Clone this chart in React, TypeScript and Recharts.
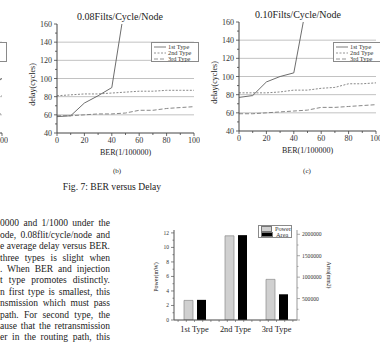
import React from 'react';
import { LineChart, Line, XAxis, YAxis, ReferenceLine, Legend, BarChart, Bar } from 'recharts';

const serif = '"Liberation Serif", "Times New Roman", serif';

// BER versus delay (three panels, (a) is mostly cropped away on the left)
const berTicks = [0, 10, 20, 30, 40, 50, 60, 70, 80, 90, 100];
const delayTicks = [40, 50, 60, 70, 80, 90, 100, 110, 120, 130, 140, 150, 160];
const delayGrid = [60, 80, 100, 120, 140];
const typeNames = ['1st Type', '2nd Type', '3rd Type'];

const delayA1 = [58, 58, 59, 60, 62, 64, 68, 73, 80, 89, 100];
const delayA2 = [79, 79, 79, 80, 80, 80, 80, 80, 81, 81, 81];
const delayA3 = [58, 58, 58, 59, 59, 59, 60, 60, 60, 61, 61];

const delayB1 = [58, 59, 73, 81, 90, 185];
const delayB2 = [81, 82, 83, 83, 84, 85, 86, 86, 87, 87, 87];
const delayB3 = [59, 59, 60, 61, 61, 62, 65, 65, 67, 68, 69];

const delayC1 = [77, 79, 94, 100, 104, 185];
const delayC2 = [82, 82, 82, 83, 85, 85, 87, 88, 92, 92, 93];
const delayC3 = [59, 59, 60, 61, 62, 63, 66, 66, 67, 68, 69];

// power / area bar chart
const categories = ['1st Type', '2nd Type', '3rd Type'];
const powerValues = [2.7, 11.6, 5.6];
const areaValues = [470000, 1980000, 600000];
const powerTicks = [0, 1, 2, 3, 4, 5, 6, 7, 8, 9, 10, 11, 12];
const areaTicks = [0, 250000, 500000, 750000, 1000000, 1250000, 1500000, 1750000, 2000000];

const textLines = [
  '0000 and 1/1000 under the',
  'ode, 0.08flit/cycle/node and',
  'e average delay versus BER.',
  'three types is slight when',
  '. When BER and injection',
  't type promotes distinctly.',
  'n first type is smallest, this',
  'nsmission which must pass',
  'path. For second type, the',
  'ause that the retransmission',
  'er in the routing path, this',
];

const lineStyles = [
  { stroke: '#5c5c5c', dash: undefined },
  { stroke: '#7a7a7a', dash: '2 1.5' },
  { stroke: '#7a7a7a', dash: '4 2' },
];

const BAR_PLOT_W = 217 - 34 - 60;

const berTick = (p: any) => {
  const { x, y, payload } = p;
  const major = payload.value % 20 === 0;
  return (
    <g>
      <line x1={x} x2={x} y1={y} y2={y + (major ? 3 : 2)} stroke="#444" strokeWidth={0.8} />
      {major && (
        <text x={x} y={y + 10} textAnchor="middle" fontSize={8} fill="#333">{payload.value}</text>
      )}
    </g>
  );
};

const delayTick = (p: any) => {
  const { x, y, payload } = p;
  const major = payload.value % 20 === 0;
  return (
    <g>
      <line x1={x} x2={x - (major ? 3 : 2)} y1={y} y2={y} stroke="#444" strokeWidth={0.8} />
      {major && (
        <text x={x - 5} y={y + 3} textAnchor="end" fontSize={8} fill="#333">{payload.value}</text>
      )}
    </g>
  );
};

const berLabel = (p: any) => {
  const vb = p.viewBox || {};
  const cx = (vb.x ?? 57) + (vb.width ?? 137) / 2;
  const y = (vb.y ?? 133) + 22;
  return <text x={cx} y={y} textAnchor="middle" fontSize={8} fill="#222">BER(1/100000)</text>;
};

const delayLabel = (p: any) => {
  const vb = p.viewBox || {};
  const x = (vb.x ?? 0) + (vb.width ?? 57) - 22;
  const y = (vb.y ?? 24) + (vb.height ?? 109) / 2 + 6;
  return (
    <text x={x} y={y} transform={`rotate(-90 ${x} ${y})`} textAnchor="middle" fontSize={8} fill="#222">
      delay(cycles)
    </text>
  );
};

const delayLegend = () => (
  <div style={{ boxSizing: 'border-box', width: 48, height: 20, border: '1px solid #8a8a8a', background: '#fff', padding: '1px 0 0 2px', fontSize: 6.3, lineHeight: '6px', fontFamily: serif, color: '#333' }}>
    {typeNames.map((n, i) => (
      <div key={n} style={{ display: 'flex', alignItems: 'center', height: 6 }}>
        <svg width={12} height={6}>
          <line x1={0} x2={12} y1={3} y2={3} stroke={lineStyles[i].stroke} strokeWidth={0.8} strokeDasharray={lineStyles[i].dash} />
        </svg>
        <span style={{ marginLeft: 2, whiteSpace: 'nowrap' }}>{n}</span>
      </div>
    ))}
  </div>
);

function DelayPanel({ left, top, title, titleX, t1, t2, t3 }: any) {
  const data = berTicks.map((ber, i) => ({
    ber,
    t1: t1[i] ?? null,
    t2: t2[i] ?? null,
    t3: t3[i] ?? null,
  }));
  return (
    <div style={{ position: 'absolute', left, top, width: 200, height: 175 }}>
      <div style={{ position: 'absolute', left: titleX - 60, width: 120, top: 11, textAlign: 'center', fontSize: 10, lineHeight: '12px', whiteSpace: 'nowrap' }}>
        {title}
      </div>
      <LineChart width={200} height={175} data={data} margin={{ top: 24, right: 6, bottom: 12, left: 0 }}>
        <XAxis dataKey="ber" type="number" domain={[0, 100]} ticks={berTicks} interval={0} tickSize={0} tickMargin={0} tick={berTick} stroke="#444" height={30} label={berLabel} />
        <YAxis type="number" domain={[40, 160]} ticks={delayTicks} interval={0} allowDataOverflow tickSize={0} tickMargin={0} tick={delayTick} stroke="#444" width={57} label={delayLabel} />
        {delayGrid.map((v) => (
          <ReferenceLine key={v} y={v} stroke="#c2c2c2" strokeWidth={1} />
        ))}
        <Legend verticalAlign="middle" wrapperStyle={{ left: 151, top: 42 - top, width: 48, height: 20 }} content={delayLegend} />
        {['t1', 't2', 't3'].map((k, i) => (
          <Line key={k} dataKey={k} name={typeNames[i]} type="linear" stroke={lineStyles[i].stroke} strokeDasharray={lineStyles[i].dash} strokeWidth={0.9} dot={false} isAnimationActive={false} />
        ))}
      </LineChart>
    </div>
  );
}

const powerTick = (p: any) => {
  const { x, y, payload } = p;
  const major = payload.value % 2 === 0;
  return (
    <g>
      <line x1={x} x2={x - (major ? 3 : 1.5)} y1={y} y2={y} stroke="#555" strokeWidth={0.7} />
      {major && (
        <text x={x - 5} y={y + 2} textAnchor="end" fontSize={5.5} fill="#333">{payload.value}</text>
      )}
    </g>
  );
};

const areaTick = (p: any) => {
  const { x, y, payload } = p;
  const major = payload.value % 500000 === 0;
  return (
    <g>
      <line x1={x} x2={x + (major ? 3 : 1.5)} y1={y} y2={y} stroke="#888" strokeWidth={0.7} />
      {major && payload.value > 0 && (
        <text x={x + 5} y={y + 2} textAnchor="start" fontSize={5.6} fill="#333">{payload.value}</text>
      )}
    </g>
  );
};

const catTick = (p: any) => {
  const { x, y, payload } = p;
  const band = BAR_PLOT_W / categories.length;
  return (
    <g>
      {[-2, -1, 0, 1, 2].map((k) => (
        <line key={k} x1={x + (k * band) / 5} x2={x + (k * band) / 5} y1={y} y2={y + 2} stroke="#555" strokeWidth={0.6} />
      ))}
      <text x={x} y={y + 12} textAnchor="middle" fontSize={8.4} fill="#222">{payload.value}</text>
    </g>
  );
};

const powerLabel = (p: any) => {
  const vb = p.viewBox || {};
  const x = (vb.x ?? 0) + 18;
  const y = (vb.y ?? 10) + (vb.height ?? 90) / 2 + 2;
  return (
    <text x={x} y={y} transform={`rotate(-90 ${x} ${y})`} textAnchor="middle" fontSize={6} fill="#222">
      Power(mW)
    </text>
  );
};

const areaLabel = (p: any) => {
  const vb = p.viewBox || {};
  const x = (vb.x ?? 157) + 30;
  const y = (vb.y ?? 10) + (vb.height ?? 90) / 2;
  return (
    <text x={x} y={y} transform={`rotate(90 ${x} ${y})`} textAnchor="middle" fontSize={5.8} fill="#222">
      Area(mm2)
    </text>
  );
};

const barLegend = () => (
  <div style={{ boxSizing: 'border-box', width: 34, height: 13, border: '1px solid #8a8a8a', background: '#fff', padding: '0 0 0 2px', fontSize: 6.3, lineHeight: '5.5px', fontFamily: serif, color: '#333' }}>
    {[{ n: 'Power', f: '#d0d0d0' }, { n: 'Area', f: '#000' }].map((e) => (
      <div key={e.n} style={{ display: 'flex', alignItems: 'center', height: 5.5 }}>
        <div style={{ width: 10, height: 3.5, background: e.f, border: '0.5px solid #777' }} />
        <span style={{ marginLeft: 3 }}>{e.n}</span>
      </div>
    ))}
  </div>
);

export default function App() {
  const barData = categories.map((c, i) => ({ name: c, power: powerValues[i], area: areaValues[i] }));
  return (
    <div style={{ position: 'absolute', left: 0, top: 0, width: 380, height: 342, overflow: 'hidden', background: '#fff', fontFamily: serif, color: '#222' }}>
      <DelayPanel left={-192} top={0} title="0.06Filts/Cycle/Node" titleX={120} t1={delayA1} t2={delayA2} t3={delayA3} />
      <DelayPanel left={0} top={0} title="0.08Filts/Cycle/Node" titleX={120} t1={delayB1} t2={delayB2} t3={delayB3} />
      <DelayPanel left={182} top={-2} title="0.10Filts/Cycle/Node" titleX={116} t1={delayC1} t2={delayC2} t3={delayC3} />

      <div style={{ position: 'absolute', left: 87, width: 60, top: 166, textAlign: 'center', fontSize: 7, lineHeight: '10px' }}>(b)</div>
      <div style={{ position: 'absolute', left: 277, width: 60, top: 166, textAlign: 'center', fontSize: 7, lineHeight: '10px' }}>(c)</div>
      <div style={{ position: 'absolute', left: 42, width: 140, top: 181, textAlign: 'center', fontSize: 9.6, lineHeight: '12px', whiteSpace: 'nowrap' }}>
        Fig. 7: BER versus Delay
      </div>

      {textLines.map((t, i) => (
        <div key={i} style={{ position: 'absolute', left: 0, width: 110, top: 218.3 + i * 11.4, fontSize: 9.5, lineHeight: '11.4px', textAlign: 'justify', textAlignLast: 'justify' }}>
          {t}
        </div>
      ))}

      <div style={{ position: 'absolute', left: 140, top: 220, width: 217, height: 122 }}>
        <BarChart width={217} height={122} data={barData} margin={{ top: 10, right: 0, bottom: 0, left: 0 }} barGap={4} barCategoryGap="23%">
          <XAxis dataKey="name" height={22} tickSize={0} tickMargin={0} tick={catTick} stroke="#444" interval={0} />
          <YAxis yAxisId="p" domain={[0, 12.4]} ticks={powerTicks} interval={0} width={34} tickSize={0} tickMargin={0} tick={powerTick} stroke="#555" label={powerLabel} allowDataOverflow />
          <YAxis yAxisId="a" orientation="right" domain={[0, 2100000]} ticks={areaTicks} interval={0} width={60} tickSize={0} tickMargin={0} tick={areaTick} stroke="#999" label={areaLabel} allowDataOverflow />
          <Legend verticalAlign="middle" wrapperStyle={{ left: 118, top: 5, width: 34, height: 13 }} content={barLegend} />
          <Bar yAxisId="p" dataKey="power" name="Power" fill="#d0d0d0" stroke="#8a8a8a" strokeWidth={0.7} barSize={9} isAnimationActive={false} />
          <Bar yAxisId="a" dataKey="area" name="Area" fill="#000" barSize={9} isAnimationActive={false} />
        </BarChart>
      </div>
    </div>
  );
}
